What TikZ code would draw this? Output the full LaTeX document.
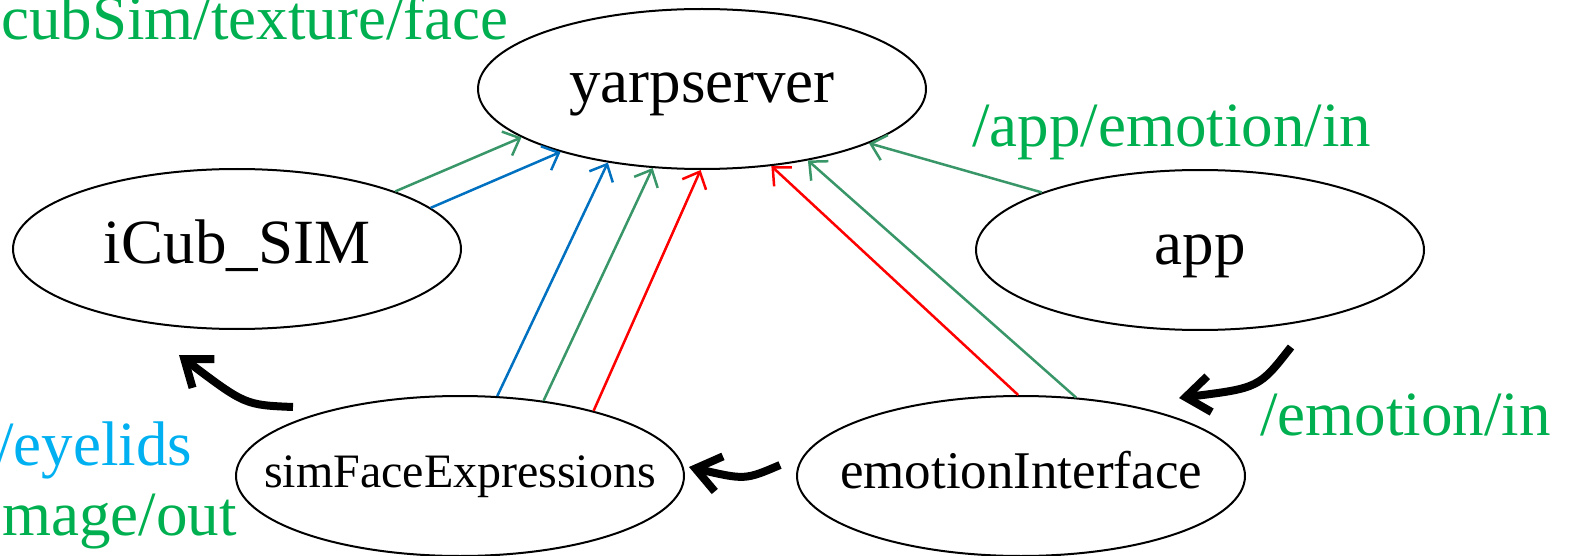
\documentclass[tikz,border=0pt]{standalone}
\usepackage{fontspec}
\setmainfont{Liberation Serif}
\usetikzlibrary{arrows.meta,shapes.geometric}
\definecolor{arrgreen}{RGB}{56,150,104}
\definecolor{arrblue}{RGB}{0,112,192}
\definecolor{arrred}{RGB}{255,0,0}
\definecolor{txtgreen}{RGB}{0,176,80}
\definecolor{txtblue}{RGB}{0,176,240}
\begin{document}
\begin{tikzpicture}[x=1pt,y=1pt,
  proc/.style={ellipse, draw, line width=2pt, minimum width=448pt, minimum height=160pt, inner sep=0pt},
  bigtxt/.style={font=\fontsize{63}{70}\selectfont, text height=44pt, text depth=16pt},
  port/.style={line width=2.5pt, -{Straight Barb[length=14pt,width=26pt]}},
  flow/.style={line width=8pt, -{Straight Barb[length=24pt,width=36pt]}},
  lbl/.style={anchor=base west, inner sep=0pt, font=\fontsize{63}{70}\selectfont}]
\useasboundingbox (0,0) rectangle (1569,-556);
\clip (0,0) rectangle (1569,-556);
\node[proc,bigtxt] (yarp) at (702,-89) {\makebox[0pt]{yarpserver}};
\node[proc,bigtxt] (icub) at (237,-249) {\makebox[0pt]{iCub\_SIM}};
\node[proc,bigtxt] (app) at (1200,-250) {\makebox[0pt]{app}};
\node[proc,font=\fontsize{48}{54}\selectfont, text height=34pt, text depth=12pt] (sim) at (460,-476) {\makebox[0pt]{simFaceExpressions}};
\node[proc,font=\fontsize{53}{60}\selectfont, text height=37pt, text depth=13pt] (emo) at (1021,-476) {\makebox[0pt]{emotionInterface}};
% port connections
\draw[port,arrgreen] (icub.20) -- (yarp.195);
\draw[port,arrblue] (icub.12) -- (yarp.204);
\draw[port,arrblue] (sim.65) -- (yarp.218);
\draw[port,arrgreen] (sim.42) -- (yarp.238);
\draw[port,arrred] (sim.26) -- (yarp.269);
\draw[port,arrred] (emo.92) -- (yarp.312);
\draw[port,arrgreen] (emo.55) -- (yarp.326);
\draw[port,arrgreen] (app.160) -- (yarp.342);
% data flow arrows
\coordinate (f1s) at (293,-407);
\coordinate (f1e) at (179,-355);
\coordinate (f2s) at (780,-465);
\coordinate (f2e) at (689,-467);
\coordinate (f3s) at (1291,-347);
\coordinate (f3e) at (1179,-398);
\draw[flow] (f1s) .. controls (245,-405) .. (f1e);
\draw[flow] (f2s) .. controls (745,-480) .. (f2e);
\draw[flow] (f3s) .. controls (1259,-388) .. (f3e);
% labels
\node[lbl,txtgreen] (l1) at (1,-40) {cubSim/texture/face};
\node[lbl,txtgreen] (l2) at (972,-147) {/app/emotion/in};
\node[lbl,txtgreen] (l3) at (1260,-435) {/emotion/in};
\node[lbl,txtblue] (l4) at (-4,-465) {/eyelids};
\node[lbl,txtgreen] (l5) at (2,-535) {mage/out};
\end{tikzpicture}
\end{document}
